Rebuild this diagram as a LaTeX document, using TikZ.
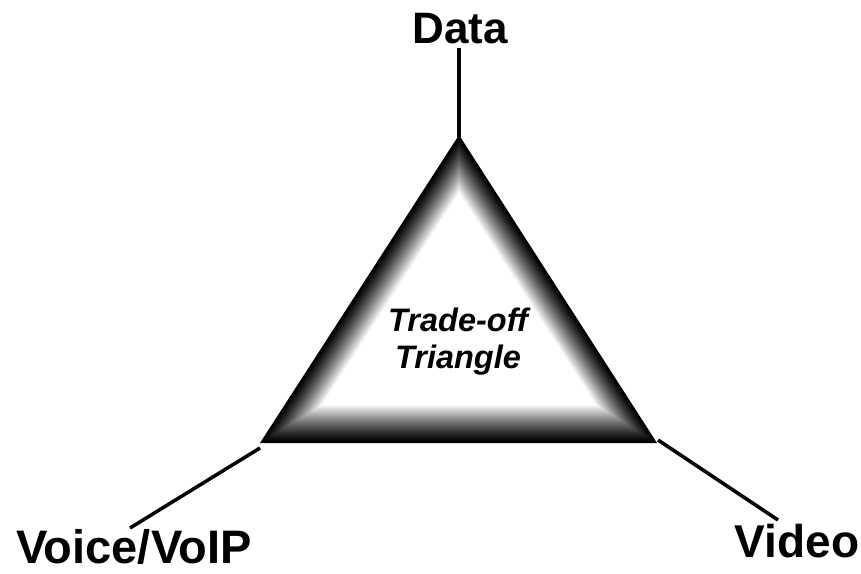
\documentclass[tikz,border=0pt]{standalone}
\usepackage{fontspec}
\setmainfont{Liberation Sans}
\usetikzlibrary{calc}
\begin{document}
\begin{tikzpicture}[x=1pt,y=-1pt,
  corner/.style={font=\bfseries\fontsize{45}{50}\selectfont, inner sep=1pt},
  centre/.style={font=\bfseries\itshape\fontsize{32.5}{37}\selectfont, align=center},
  leg/.style={line width=3.5pt, black}]
\useasboundingbox (0,0) rectangle (861,573);
% outer and inner outlines of the bevelled triangle
\coordinate (A)  at (459,135);
\coordinate (B)  at (260,443);
\coordinate (C)  at (657,443);
\coordinate (Ai) at (459,193);
\coordinate (Bi) at (322,405);
\coordinate (Ci) at (596,405);
% bevel: nested triangles fading from black (outside) to white (inside)
\foreach \i in {0,...,60} {
  \pgfmathsetmacro\t{\i/60}
  \pgfmathsetmacro\w{100*\t^1.25}
  \fill[white!\w!black] ($(A)!\t!(Ai)$) -- ($(B)!\t!(Bi)$) -- ($(C)!\t!(Ci)$) -- cycle;
}
\node[centre] (tri) at (458,342) {Trade-off\\Triangle};
% corner labels
\node[corner, font=\bfseries\fontsize{44}{50}\selectfont, anchor=base] (data)  at (460,43)  {Data};
\node[corner, font=\bfseries\fontsize{47}{52}\selectfont, anchor=base] (voice) at (134,563) {Voice/VoIP};
\node[corner, font=\bfseries\fontsize{46}{51}\selectfont, anchor=base] (video) at (797,557) {Video};
% legs from the corners to the labels
\coordinate (dTop) at (459,48);
\coordinate (dBot) at (459,137);
\coordinate (lTop) at (260,448);
\coordinate (lBot) at (130,528);
\coordinate (rTop) at (658,440);
\coordinate (rBot) at (778,520);
\draw[leg] (dTop) -- (dBot);
\draw[leg] (lTop) -- (lBot);
\draw[leg] (rTop) -- (rBot);
\end{tikzpicture}
\end{document}
